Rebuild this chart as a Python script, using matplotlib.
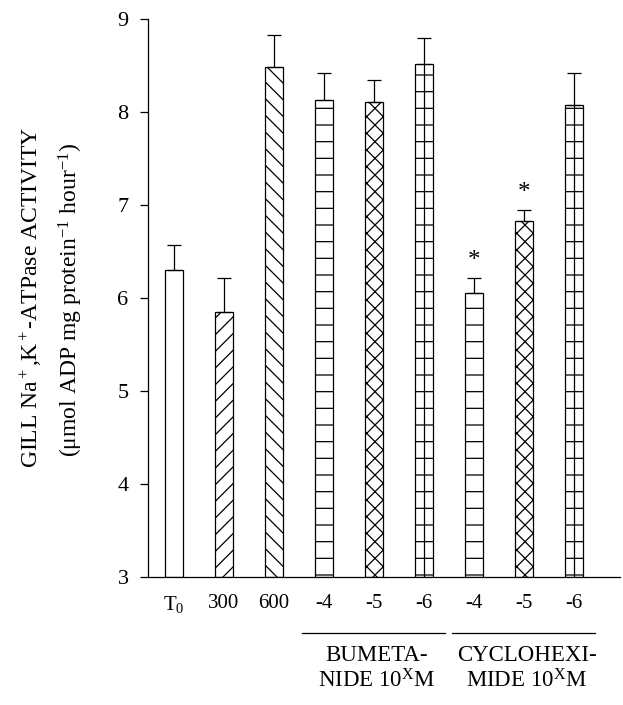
import matplotlib
matplotlib.use("Agg")
import matplotlib.pyplot as plt

plt.rcParams['font.family'] = ['Liberation Serif', 'DejaVu Serif']
plt.rcParams['mathtext.fontset'] = 'custom'
plt.rcParams['mathtext.rm'] = 'Liberation Serif'
plt.rcParams['mathtext.it'] = 'Liberation Serif:italic'
plt.rcParams['hatch.linewidth'] = 0.9

labels = [r'T$_0$', '300', '600', '-4', '-5', '-6', '-4', '-5', '-6']
values = [6.30, 5.85, 8.48, 8.13, 8.11, 8.52, 6.05, 6.83, 8.07]
errors = [0.27, 0.37, 0.35, 0.29, 0.23, 0.28, 0.17, 0.12, 0.35]
hatches = ['', '//', '\\\\', '-', 'xx', '+', '-', 'xx', '+']
significant = [False, False, False, False, False, False, True, True, False]
groups = ['BUMETA-\nNIDE 10$^{\\mathrm{X}}$M', 'CYCLOHEXI-\nMIDE 10$^{\\mathrm{X}}$M']
group_members = [(3, 5), (6, 8)]

fig = plt.figure(figsize=(6.23, 7.05), dpi=100)
ax = fig.add_axes([148/623, 1-577/705, 472/623, 558/705])

x = list(range(len(values)))
for i in x:
    h = hatches[i]
    ax.bar(i, values[i] - 3, bottom=3, width=0.36, color='white', edgecolor='black',
           hatch='-' if h == '+' else h, linewidth=0.9, zorder=2)
    if h == '+':
        ax.vlines(i, 3, values[i], color='black', lw=0.9, zorder=2.5)
    ax.errorbar(i, values[i], yerr=[[0], [errors[i]]], fmt='none', ecolor='black',
                elinewidth=0.9, capsize=5, capthick=0.9, zorder=3)
    if significant[i]:
        ax.text(i, values[i] + errors[i] + 0.06, '*', ha='center', va='bottom', fontsize=18)

ax.set_xlim(-0.52, 8.92)
ax.set_ylim(3, 9)
ax.set_yticks([3, 4, 5, 6, 7, 8, 9])
ax.tick_params(axis='y', labelsize=16, length=6, width=0.9, direction='out', pad=8)
ax.set_xticks(x)
ax.set_xticklabels(labels, fontsize=15)
ax.tick_params(axis='x', length=0, pad=12)
ax.spines['top'].set_visible(False)
ax.spines['right'].set_visible(False)
ax.spines['left'].set_linewidth(0.9)
ax.spines['bottom'].set_linewidth(0.9)

# group lines and labels
for (a, b), g in zip(group_members, groups):
    x0 = a - 0.44
    x1 = b + 0.42
    ax.plot([x0, x1], [2.4, 2.4], color='black', lw=0.9, clip_on=False)
    ax.text((a + b) / 2 + 0.05, 2.27, g, ha='center', va='top', fontsize=16.5,
            linespacing=1.2)

fig.text(31/623, 1-297/705, 'GILL Na$^+$,K$^+$-ATPase ACTIVITY', rotation=90,
         ha='center', va='center', fontsize=17)
fig.text(71/623, 1-300/705, '(\u03bcmol ADP mg protein$^{-1}$ hour$^{-1}$)', rotation=90,
         ha='center', va='center', fontsize=17)

fig.savefig('out.png', dpi=100)
